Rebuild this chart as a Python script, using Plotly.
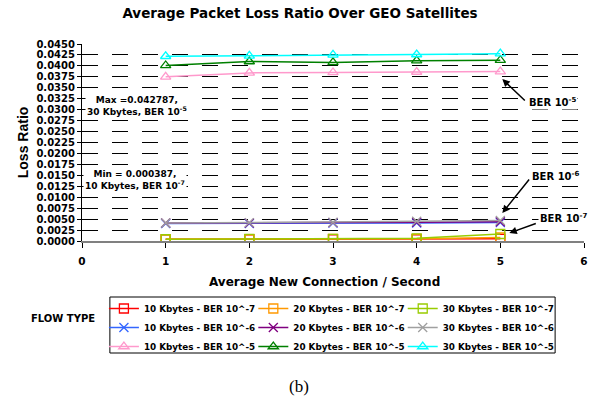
import plotly.graph_objects as go

x_vals = [1, 2, 3, 4, 5]

names = [
    "10 Kbytes - BER 10^-7", "20 Kbytes - BER 10^-7", "30 Kbytes - BER 10^-7",
    "10 Kbytes - BER 10^-6", "20 Kbytes - BER 10^-6", "30 Kbytes - BER 10^-6",
    "10 Kbytes - BER 10^-5", "20 Kbytes - BER 10^-5", "30 Kbytes - BER 10^-5",
]
k10_ber7 = [0.000387, 0.0004, 0.0004, 0.0004, 0.0005]
k20_ber7 = [0.0004, 0.0004, 0.0005, 0.0005, 0.0008]
k30_ber7 = [0.0004, 0.0005, 0.0005, 0.0006, 0.0016]
k10_ber6 = [0.0040, 0.0040, 0.0041, 0.0041, 0.0042]
k20_ber6 = [0.0041, 0.0041, 0.0042, 0.0043, 0.0044]
k30_ber6 = [0.0041, 0.0042, 0.0043, 0.0045, 0.0047]
k10_ber5 = [0.0375, 0.0384, 0.0385, 0.0386, 0.0387]
k20_ber5 = [0.0401, 0.0410, 0.0408, 0.0412, 0.0413]
k30_ber5 = [0.0422, 0.0423, 0.0425, 0.0426, 0.042787]
series = [k10_ber7, k20_ber7, k30_ber7, k10_ber6, k20_ber6, k30_ber6, k10_ber5, k20_ber5, k30_ber5]

colors = ["#FF0000", "#FF9900", "#99CC00", "#3366FF", "#800080", "#A0A0A0", "#FF99CC", "#008000", "#00FFFF"]
symbols = ["square-open"] * 3 + ["x-thin-open"] * 3 + ["triangle-up-open"] * 3

y_ticks = [i * 0.0025 for i in range(19)]
x_ticks = [0, 1, 2, 3, 4, 5, 6]

FONT = "DejaVu Sans, Arial, sans-serif"
ARIAL = "Liberation Sans, Arial, sans-serif"

# plot-area geometry in pixels
L, R, T, B = 82, 586, 44, 241
PW, PH = R - L, B - T


def px(xp):
    return (xp - L) / PW


def py(yp):
    return (B - yp) / PH


legend_ids = ["legend", "legend2", "legend3"]

fig = go.Figure()
for i, (nm, ys, c, s) in enumerate(zip(names, series, colors, symbols)):
    fig.add_trace(go.Scatter(
        x=x_vals, y=ys, name="<b>" + nm + "</b>", mode="lines+markers",
        line=dict(color=c, width=1.5),
        marker=dict(symbol=s, size=9, color=c, line=dict(color=c, width=1.3)),
        legend=legend_ids[i % 3],
    ))

leg_common = dict(orientation="v", xanchor="left", yanchor="top", borderwidth=0,
                  bgcolor="rgba(0,0,0,0)", font=dict(size=8.8, color="black"), tracegroupgap=0,
                  itemwidth=30, y=py(294))

fig.update_layout(
    width=600, height=404,
    margin=dict(l=L, r=600 - R, t=T, b=404 - B),
    paper_bgcolor="white", plot_bgcolor="white",
    font=dict(family=FONT, color="black"),
    title=dict(text="<b>Average Packet Loss Ratio Over GEO Satellites</b>",
               x=0.5, xanchor="center", y=1 - 13 / 404, yanchor="middle",
               yref="container", font=dict(size=13.5)),
    showlegend=True,
    legend=dict(x=px(104), **leg_common),
    legend2=dict(x=px(254), **leg_common),
    legend3=dict(x=px(404), **leg_common),
    shapes=[dict(type="rect", xref="paper", yref="paper",
                 x0=px(110), x1=px(557), y0=py(297), y1=py(353),
                 line=dict(color="black", width=1), fillcolor="rgba(0,0,0,0)")],
)

fig.update_xaxes(range=[0, 6], tickvals=x_ticks, showgrid=False, zeroline=False,
                 showline=True, linecolor="#808080", linewidth=2,
                 ticks="outside", tickcolor="black", ticklen=5, ticklabelstandoff=4,
                 tickfont=dict(size=10.5, weight="bold"))
fig.update_yaxes(range=[0, 0.045], tickvals=y_ticks, tickformat=".4f",
                 showgrid=True, gridcolor="black", gridwidth=1, griddash="16px,14px",
                 zeroline=False, showline=True, linecolor="black", linewidth=1,
                 ticks="outside", tickcolor="black", ticklen=4,
                 tickfont=dict(size=10, weight="bold"))

ann = []
# axis titles
ann.append(dict(text="<b>Average New Connection / Second</b>", xref="paper", yref="paper",
                x=px(325), y=py(282), showarrow=False, font=dict(size=12),
                xanchor="center", yanchor="middle"))
ann.append(dict(text="<b>Loss Ratio</b>", xref="paper", yref="paper",
                x=px(23), y=py(142), showarrow=False, textangle=-90,
                font=dict(size=14, family=ARIAL), xanchor="center", yanchor="middle"))
ann.append(dict(text="<b>FLOW TYPE</b>", xref="paper", yref="paper",
                x=px(63), y=py(318), showarrow=False, font=dict(size=10),
                xanchor="center", yanchor="middle"))
ann.append(dict(text="(b)", xref="paper", yref="paper",
                x=px(300), y=py(386), showarrow=False,
                font=dict(size=17, family="Liberation Serif, Times New Roman, serif"),
                xanchor="center", yanchor="middle"))
# max / min notes
ann.append(dict(text="<b>Max =0.042787,<br>30 Kbytes, BER 10<sup>-5</sup></b>", xref="paper", yref="paper",
                x=px(137), y=py(106), showarrow=False, font=dict(size=9), align="center",
                xanchor="center", yanchor="middle", bgcolor="white"))
ann.append(dict(text="<b>Min = 0.000387,<br>10 Kbytes, BER 10<sup>-7</sup></b>", xref="paper", yref="paper",
                x=px(135), y=py(180), showarrow=False, font=dict(size=9), align="center",
                xanchor="center", yanchor="middle", bgcolor="white"))
# arrows: head and tail given in pixel positions
for (hx, hy), (tx, ty) in [((504, 79), (528, 102)), ((504, 213), (532, 178)), ((511, 233), (539, 223))]:
    ann.append(dict(xref="paper", yref="paper", x=px(hx), y=py(hy),
                    axref="pixel", ayref="pixel", ax=tx - hx, ay=ty - hy,
                    text="", showarrow=True, arrowhead=2,
                    arrowsize=1, arrowwidth=1.5, arrowcolor="black"))
for tx, ty, t in [(529, 102, "-5"), (532, 176, "-6"), (540, 218, "-7")]:
    ann.append(dict(text="<b>BER 10<sup>" + t + "</sup></b>", xref="paper", yref="paper",
                    x=px(tx), y=py(ty), showarrow=False, font=dict(size=10),
                    xanchor="left", yanchor="middle", bgcolor="white"))
fig.update_layout(annotations=ann)

fig.write_html("out.html")
